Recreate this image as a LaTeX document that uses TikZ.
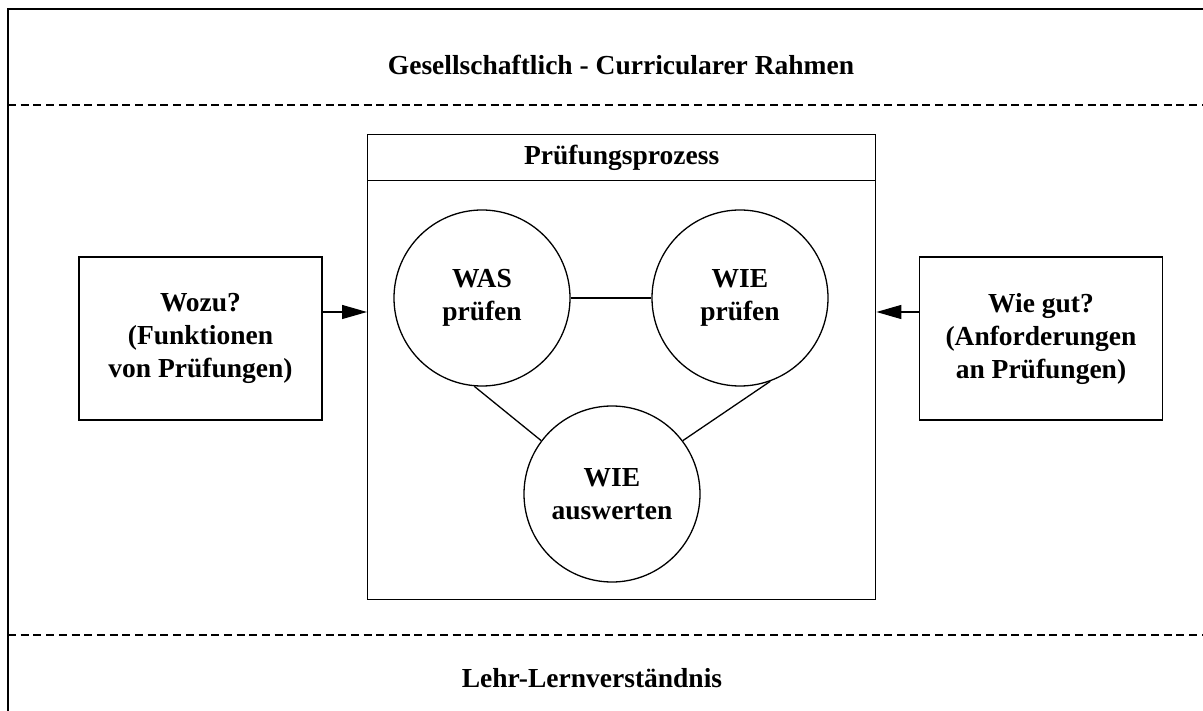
\documentclass[tikz,border=0pt]{standalone}
\usepackage{fontspec}
\setmainfont{Liberation Serif}
\usetikzlibrary{positioning,arrows.meta}

\tikzset{
	schrift/.style={font=\bfseries\fontsize{27.5}{33}\selectfont},
	kasten/.style={draw,line width=1.4pt,minimum width=243pt,minimum height=163pt,align=center,schrift},
	kreis/.style={draw,circle,line width=1.3pt,minimum size=176pt,inner sep=0pt,align=center,schrift},
	pfeil/.style={-{Triangle[length=25pt,width=14pt]},line width=1.3pt},
	trenner/.style={dash pattern=on 8pt off 4.7pt,line width=2.2pt}
}

\begin{document}
\begin{tikzpicture}[x=1pt,y=-1pt]
		\useasboundingbox (0,0) rectangle (1203,711);
		% Rahmen und Trennlinien
		\draw[line width=1.4pt](8,711)--(8,9)--(1203,9);
		\draw[trenner](8,105)--(1203,105);
		\draw[trenner](8,635)--(1203,635);
		\node[schrift] (rahmen) at (621,65) {Gesellschaftlich - Curricularer Rahmen};
		\node[schrift] (lehr) at (592,678) {Lehr-Lernverst\"andnis};
		% Pruefungsprozess
		\node[draw,line width=1.4pt,minimum width=508pt,minimum height=465pt,anchor=north west] (proz) at (367,134) {};
		\node[draw,line width=1.4pt,minimum width=508pt,minimum height=46pt,anchor=north,schrift] (kopf) at (proz.north) {Pr\"ufungsprozess};
		\node[kreis] (was) at (482,298) {WAS\\pr\"ufen};
		\node[kreis] (wie) at (740,298) {WIE\\pr\"ufen};
		\node[kreis] (ausw) at (612,494) {WIE\\auswerten};
		\draw[line width=1.3pt](was)--(wie);
		\draw[line width=1.3pt](was.-95)--(ausw.143);
		\draw[line width=1.3pt](wie.-70)--(ausw.37);
		% Seitenkaesten
		\node[kasten] (wozu) at (200.5,338.5) {Wozu?\\(Funktionen\\von Pr\"ufungen)};
		\node[kasten] (wiegut) at (1041,338.5) {Wie gut?\\(Anforderungen\\an Pr\"ufungen)};
		\coordinate (pl) at ([yshift=26.5pt]wozu.east);
		\coordinate (pr) at ([yshift=26.5pt]wiegut.west);
		\draw[pfeil](pl)--(pl-|proz.west);
		\draw[pfeil](pr)--(pr-|proz.east);
	\end{tikzpicture}
\end{document}
